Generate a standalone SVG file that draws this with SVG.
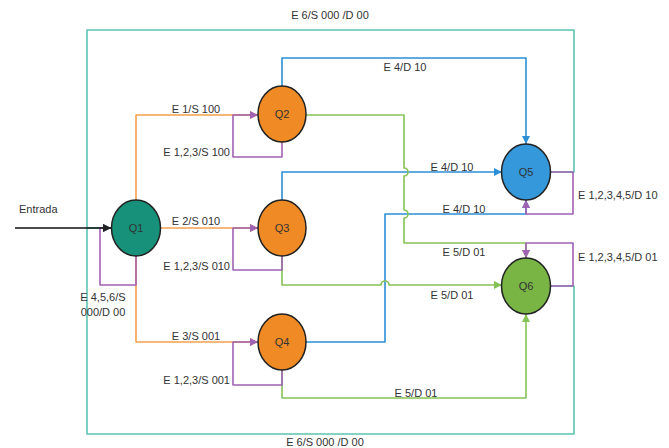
<svg xmlns="http://www.w3.org/2000/svg" width="669" height="448" viewBox="0 0 669 448">
<style>
text{font-family:"Liberation Sans",Arial,sans-serif;font-size:11px;fill:#333}
.c{text-anchor:middle}
.e{text-anchor:end}
.ln{fill:none;stroke-width:1.6;stroke-linejoin:round}
.or{stroke:#f5a04e}.pu{stroke:#a062b2}.bl{stroke:#2b8fd6}.gr{stroke:#85c255}.te{stroke:#5cc3b3}.bk{stroke:#111}
.nd{stroke:#222;stroke-width:1.5}
</style>
<defs>
<marker id="aor" markerUnits="userSpaceOnUse" markerWidth="9" markerHeight="9" refX="8" refY="4" orient="auto"><path d="M0,0L8,4L0,8z" fill="#f5a04e"/></marker>
<marker id="apu" markerUnits="userSpaceOnUse" markerWidth="9" markerHeight="9" refX="8" refY="4" orient="auto"><path d="M0,0L8,4L0,8z" fill="#a062b2"/></marker>
<marker id="abl" markerUnits="userSpaceOnUse" markerWidth="9" markerHeight="9" refX="8" refY="4" orient="auto"><path d="M0,0L8,4L0,8z" fill="#2b8fd6"/></marker>
<marker id="agr" markerUnits="userSpaceOnUse" markerWidth="9" markerHeight="9" refX="8" refY="4" orient="auto"><path d="M0,0L8,4L0,8z" fill="#85c255"/></marker>
<marker id="ate" markerUnits="userSpaceOnUse" markerWidth="9" markerHeight="9" refX="8" refY="4" orient="auto"><path d="M0,0L8,4L0,8z" fill="#5cc3b3"/></marker>
<marker id="abk" markerUnits="userSpaceOnUse" markerWidth="9" markerHeight="9" refX="8" refY="4" orient="auto"><path d="M0,0L8,4L0,8z" fill="#222"/></marker>
</defs>
<g id="connectors">
<path class="ln te" d="M551,172H574V30H87V228H111" marker-end="url(#ate)"/>
<path class="ln te" d="M551,286H574V434H87V228H111" marker-end="url(#ate)"/>
<path class="ln or" d="M136,200V115H258" marker-end="url(#aor)"/>
<path class="ln or" d="M160.5,228H258" marker-end="url(#aor)"/>
<path class="ln or" d="M136,256V342H258" marker-end="url(#aor)"/>
<path class="ln bl" d="M282,86V58H526V144" marker-end="url(#abl)"/>
<path class="ln bl" d="M282,200V172H502" marker-end="url(#abl)"/>
<path class="ln bl" d="M306,342H385V214H526V200" marker-end="url(#abl)"/>
<path class="ln gr" d="M306,115H404V168a4,4 0 0 1 0,8V210a4,4 0 0 1 0,8V243H526V258" marker-end="url(#agr)"/>
<path class="ln gr" d="M282,256V285H381a4,4 0 0 1 8,0H502" marker-end="url(#agr)"/>
<path class="ln gr" d="M282,370V398H526V314" marker-end="url(#agr)"/>
<path class="ln pu" d="M136,256V285H100V228H111" marker-end="url(#apu)"/>
<path class="ln pu" d="M282,142V157H233V115H258" marker-end="url(#apu)"/>
<path class="ln pu" d="M282,256V270H233V228H258" marker-end="url(#apu)"/>
<path class="ln pu" d="M282,370V385H233V342H258" marker-end="url(#apu)"/>
<path class="ln pu" d="M551,172H573V214H526V200" marker-end="url(#apu)"/>
<path class="ln pu" d="M551,286H573V243H526V258" marker-end="url(#apu)"/>
<path class="ln bk" d="M15,228H111" marker-end="url(#abk)"/>
<text x="19" y="213">Entrada</text>
<text class="c" x="103" y="301">E 4,5,6/S</text>
<text class="c" x="103" y="316">000/D 00</text>
<text class="c" x="196" y="113">E 1/S 100</text>
<text class="e" x="230" y="156">E 1,2,3/S 100</text>
<text class="c" x="196" y="225">E 2/S 010</text>
<text class="e" x="230" y="270">E 1,2,3/S 010</text>
<text class="c" x="196" y="340">E 3/S 001</text>
<text class="e" x="230" y="384">E 1,2,3/S 001</text>
<text class="c" x="405" y="71">E 4/D 10</text>
<text class="c" x="452" y="171">E 4/D 10</text>
<text class="c" x="464" y="213">E 4/D 10</text>
<text class="c" x="464" y="256">E 5/D 01</text>
<text class="c" x="452" y="299">E 5/D 01</text>
<text class="c" x="416" y="397">E 5/D 01</text>
<text x="578" y="199">E 1,2,3,4,5/D 10</text>
<text x="578" y="261">E 1,2,3,4,5/D 01</text>
<text class="c" x="330" y="19">E 6/S 000 /D 00</text>
<text class="c" x="325" y="446">E 6/S 000 /D 00</text>
</g>
<g id="Q1"><ellipse class="nd" cx="136" cy="228" rx="24.5" ry="28" fill="#17917a"/><text class="c" x="136" y="232">Q1</text></g>
<g id="Q2"><ellipse class="nd" cx="282" cy="114" rx="24" ry="28" fill="#f08a24"/><text class="c" x="282" y="118">Q2</text></g>
<g id="Q3"><ellipse class="nd" cx="282" cy="228" rx="24" ry="28" fill="#f08a24"/><text class="c" x="282" y="232">Q3</text></g>
<g id="Q4"><ellipse class="nd" cx="282" cy="342" rx="24" ry="28" fill="#f08a24"/><text class="c" x="282" y="346">Q4</text></g>
<g id="Q5"><ellipse class="nd" cx="526" cy="172" rx="24.5" ry="28" fill="#3498db"/><text class="c" x="526" y="176">Q5</text></g>
<g id="Q6"><ellipse class="nd" cx="526" cy="286" rx="24.5" ry="28" fill="#79b545"/><text class="c" x="526" y="290">Q6</text></g>
</svg>
